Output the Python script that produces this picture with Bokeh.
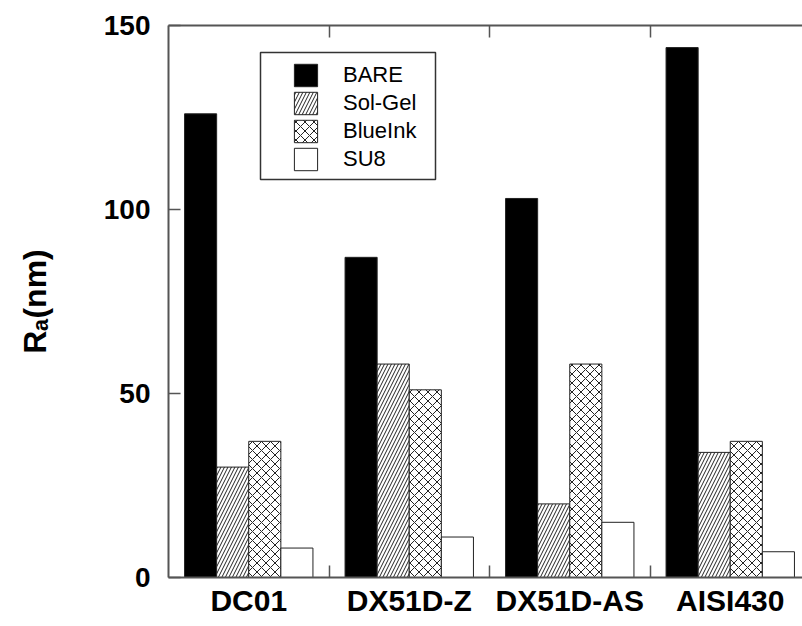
import numpy as np
from bokeh.plotting import figure
from bokeh.models import (Range1d, FixedTicker, LinearAxis, Legend, LegendItem,
                          BoxAnnotation, ColumnDataSource)
from bokeh.transform import dodge
from bokeh.embed import file_html
from bokeh.resources import INLINE

# ---- data ----
categories = ["DC01", "DX51D-Z", "DX51D-AS", "AISI430"]
series_names = ["BARE", "Sol-Gel", "BlueInk", "SU8"]
bare = [126, 87, 103, 144]
sol_gel = [30, 58, 20, 34]
blue_ink = [37, 51, 58, 37]
su8 = [8, 11, 15, 7]
y_ticks = [0, 50, 100, 150]

xs = list(np.arange(len(categories)) + 0.5)
src = ColumnDataSource(dict(x=xs, bare=bare, sol_gel=sol_gel, blue_ink=blue_ink, su8=su8))

p = figure(width=802, height=626, output_backend="svg", toolbar_location=None,
           x_range=Range1d(0, 634 / 160.5), y_range=Range1d(0, 150),
           min_border_left=168, min_border_right=0, min_border_top=25,
           min_border_bottom=49, x_axis_type=None, y_axis_type=None)
p.xgrid.visible = False
p.ygrid.visible = False
p.outline_line_color = None
p.background_fill_color = "white"
p.border_fill_color = "white"

bw = 0.2
line_c = "#222222"
r_bare = p.vbar(x=dodge("x", -0.3), top="bare", width=bw, source=src,
                fill_color="black", line_color=line_c, line_width=1)
r_sg = p.vbar(x=dodge("x", -0.1), top="sol_gel", width=bw, source=src,
              fill_color="white", line_color=line_c, line_width=1,
              hatch_pattern="/", hatch_color="#222222", hatch_scale=7, hatch_weight=1)
r_bi = p.vbar(x=dodge("x", 0.1), top="blue_ink", width=bw, source=src,
              fill_color="white", line_color=line_c, line_width=1,
              hatch_pattern="x", hatch_color="#222222", hatch_scale=9, hatch_weight=1)
r_su = p.vbar(x=dodge("x", 0.3), top="su8", width=bw, source=src,
              fill_color="white", line_color=line_c, line_width=1)

axis_c = "#555555"
font = "Liberation Sans"

# bottom axis
xb = LinearAxis(ticker=FixedTicker(ticks=xs, minor_ticks=[1, 2, 3]))
xb.major_label_overrides = {x: c for x, c in zip(xs, categories)}
xb.major_tick_in = 0
xb.major_tick_out = 0
xb.minor_tick_in = 12
xb.minor_tick_out = 0
xb.axis_line_color = axis_c
xb.axis_line_width = 2
xb.minor_tick_line_color = axis_c
xb.minor_tick_line_width = 1.5
xb.major_label_text_font = font
xb.major_label_text_font_style = "bold"
xb.major_label_text_font_size = "30px"
xb.major_label_text_color = "black"
xb.major_label_standoff = 6
p.add_layout(xb, "below")

# top axis (frame line)
xt = LinearAxis(ticker=FixedTicker(ticks=[], minor_ticks=[1, 2, 3]))
xt.major_tick_in = 0
xt.major_tick_out = 0
xt.minor_tick_in = 12
xt.minor_tick_out = 0
xt.axis_line_color = axis_c
xt.axis_line_width = 2
xt.minor_tick_line_color = axis_c
xt.minor_tick_line_width = 1.5
xt.major_label_text_font_size = "0px"
p.add_layout(xt, "above")

# left axis
yl = LinearAxis(ticker=FixedTicker(ticks=y_ticks))
yl.minor_tick_line_color = None
yl.major_tick_in = 12
yl.major_tick_out = 0
yl.major_tick_line_color = axis_c
yl.major_tick_line_width = 1.5
yl.axis_line_color = axis_c
yl.axis_line_width = 2
yl.major_label_text_font = font
yl.major_label_text_font_style = "bold"
yl.major_label_text_font_size = "28px"
yl.major_label_text_color = "black"
yl.major_label_standoff = 18
yl.axis_label = "Rₐ(nm)"
yl.axis_label_text_font = font
yl.axis_label_text_font_style = "bold"
yl.axis_label_text_font_size = "32px"
yl.axis_label_text_color = "black"
yl.axis_label_standoff = 48
p.add_layout(yl, "left")

# legend
legend = Legend(items=[LegendItem(label=n, renderers=[r]) for n, r in
                       zip(series_names, [r_bare, r_sg, r_bi, r_su])],
                location=(123, 404), padding=0, margin=0, spacing=0,
                glyph_width=29, glyph_height=28, label_height=28,
                label_standoff=23, label_text_font=font,
                label_text_font_size="22px", label_text_color="black",
                border_line_color=None, background_fill_alpha=0)
p.add_layout(legend, "center")

box = BoxAnnotation(left=(260 - 168) / 160.5, right=(435 - 168) / 160.5,
                    top=(577 - 52) / 3.68, bottom=(577 - 179) / 3.68,
                    fill_color=None, fill_alpha=0, line_color="#333333",
                    line_width=1.5, line_alpha=1)
p.add_layout(box)

open("out.html", "w").write(file_html(p, INLINE))
